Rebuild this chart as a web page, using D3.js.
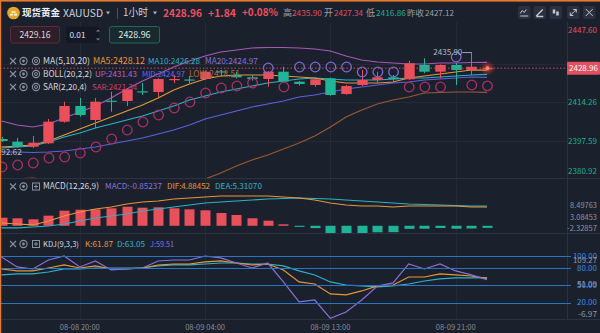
<!DOCTYPE html>
<html><head><meta charset="utf-8">
<script src="https://cdn.jsdelivr.net/npm/d3@7"></script>
<style>
html,body{margin:0;padding:0;background:#1b202d;overflow:hidden;}
svg{display:block;}
text{font-family:"Noto Sans CJK SC","Noto Sans",sans-serif;}
</style></head><body>
<svg id="c" width="600" height="333"></svg>
<script>
// ---------------- DATA ----------------
const timeLabels = ["08-08 20:00","08-09 04:00","08-09 13:00","08-09 21:00"];
const timeLabelIdx = [5,13,21,29];
const open  = [2398.45,2397.29,2395.14,2396.60,2405.91,2412.67,2406.64,2414.95,2414.82,2419.00,2418.70,2424.05,2424.10,2424.30,2427.60,2426.02,2425.03,2424.30,2427.44,2423.14,2421.72,2424.60,2417.84,2421.72,2423.87,2425.03,2424.17,2430.33,2427.44,2430.33,2428.18,2428.90];
const high  = [2399.32,2398.89,2399.75,2407.07,2414.52,2416.12,2416.12,2418.83,2420.30,2422.58,2424.60,2426.02,2425.59,2427.90,2428.18,2427.44,2426.02,2427.70,2429.60,2423.50,2424.50,2424.90,2421.70,2428.18,2427.44,2426.02,2432.18,2433.22,2430.60,2431.20,2435.90,2429.20];
const low   = [2397.16,2394.58,2394.58,2396.30,2405.50,2408.06,2403.19,2410.21,2412.67,2417.41,2416.55,2422.58,2422.58,2424.00,2425.16,2424.60,2423.57,2420.98,2422.70,2421.50,2420.98,2417.10,2417.50,2421.30,2422.58,2423.14,2423.90,2426.76,2424.60,2421.72,2426.02,2428.70];
const close = [2397.59,2395.14,2396.86,2405.91,2412.67,2408.79,2414.52,2414.70,2419.86,2418.70,2424.30,2424.30,2423.85,2427.44,2427.30,2425.03,2424.30,2427.44,2423.14,2422.15,2424.17,2417.41,2421.28,2423.87,2425.03,2424.17,2431.06,2427.44,2430.33,2428.18,2429.60,2428.96];
const ma5   = [2395.01,2395.44,2395.87,2397.59,2400.18,2402.76,2405.35,2407.93,2410.51,2413.10,2416.12,2419.56,2422.14,2424.30,2425.59,2426.02,2426.02,2426.02,2425.59,2425.16,2424.73,2423.44,2422.57,2422.57,2422.57,2423.01,2424.73,2425.59,2426.45,2427.31,2428.18,2428.12];
const ma10  = [2394.58,2395.01,2395.44,2397.16,2399.32,2401.04,2403.19,2404.92,2406.64,2408.36,2410.51,2412.67,2415.25,2416.98,2418.70,2419.99,2421.28,2422.57,2423.44,2424.30,2424.73,2424.30,2423.87,2423.87,2423.87,2424.30,2424.73,2424.73,2425.16,2425.59,2426.02,2426.28];
const bollMid = [2392.85,2392.85,2392.64,2392.85,2393.29,2394.15,2395.01,2396.30,2397.59,2398.89,2400.61,2402.33,2404.48,2407.07,2408.79,2410.51,2412.24,2413.53,2414.82,2416.55,2417.41,2418.70,2419.99,2420.85,2421.71,2422.57,2423.01,2423.87,2424.30,2424.73,2425.16,2424.97];
const bollUp  = [2406.21,2404.48,2403.62,2404.92,2407.50,2410.08,2412.67,2416.12,2419.99,2423.44,2426.45,2429.47,2432.05,2434.20,2435.93,2436.79,2437.65,2437.87,2437.87,2437.65,2437.22,2436.36,2434.20,2432.48,2431.62,2431.19,2430.76,2430.76,2431.19,2431.19,2431.40,2431.43];
const bollLow = [2379.49,2381.22,2381.66,2380.78,2379.08,2378.22,2377.35,2376.48,2375.19,2374.34,2374.77,2375.19,2378.63,2381.22,2383.81,2386.82,2389.41,2391.56,2394.15,2396.73,2399.75,2403.62,2407.93,2410.95,2413.53,2415.25,2416.55,2418.27,2418.48,2418.70,2418.70,2418.51];
const sar   = [2386.39,2387.25,2388.12,2390.27,2390.70,2392.42,2395.01,2398.46,2402.33,2405.78,2408.79,2411.81,2414.39,2418.27,2420.42,2421.28,2422.57,2429.04,2420.85,2429.47,2429.47,2429.47,2429.47,2427.31,2427.31,2427.31,2420.85,2420.85,2420.85,2433.77,2421.71,2421.34];
const macdHist = [3.29,3.05,2.64,4.11,6.14,6.54,6.71,7.11,7.76,7.36,7.52,7.11,6.71,6.30,5.20,4.39,3.05,2.07,0.61,-0.45,-0.95,-3.2,-3.5,-3.3,-2.65,-2.6,-1.25,-1.2,-0.9,-1.2,-1.1,-0.85];
const dif = [1.14,0.73,0.33,1.95,3.98,5.61,6.83,7.64,8.86,9.67,10.08,10.89,11.30,11.71,12.11,12.11,12.11,12.11,11.71,11.30,10.49,9.27,8.46,8.05,8.05,7.64,8.05,8.05,8.05,8.05,7.64,7.64];
const dea = [-0.89,-0.89,-0.49,-0.08,0.73,1.95,3.17,3.98,4.80,6.02,6.83,7.64,8.46,9.27,9.67,10.08,10.49,10.89,11.10,11.30,11.10,10.89,10.49,10.08,9.67,9.27,8.86,8.66,8.46,8.25,8.05,8.05];
const kdjK = [78.1,74.7,74.7,79.8,85.0,79.8,83.3,78.1,78.1,79.8,85.0,86.7,86.7,90.2,91.9,88.4,85.0,86.7,76.4,55.7,52.2,35.0,33.3,40.2,48.8,50.5,64.3,64.3,69.5,67.8,66.0,61.87];
const kdjD = [67.8,69.5,69.5,72.9,78.1,78.1,79.8,79.8,79.8,79.8,83.3,85.0,85.0,86.7,88.4,88.4,86.7,86.7,83.3,74.7,67.8,55.7,50.5,48.8,47.1,48.8,52.2,57.4,60.9,62.6,62.6,63.05];
const kdjJ = [98.8,81.6,78.1,93.6,100.5,81.6,91.9,76.4,78.1,79.8,91.9,93.6,93.6,100.5,97.1,88.4,79.8,88.4,55.7,21.2,24.6,-6.97,4.0,24.6,48.8,54.0,86.7,78.1,86.7,74.7,67.8,59.51];
const priceTicks = [2447.60,2430.93,2414.26,2397.59,2380.92];
const lastPrice = 2428.96;
const highMark = {idx:30, value:2435.90};
const lowMark = {idx:-1, value:2392.62};
const macdTicks = [8.49763,3.08453,-2.32857];
const kdjLevels = [100,80,50,20];
const kdjAxisExtra = [109.27,51.09,-6.97];
const header = {name:"现货黄金", code:"XAUUSD", period:"1小时", price:"2428.96", chg:"+1.84", pct:"+0.08%",
  high:"2435.90", open:"2427.34", low:"2416.86", prev:"2427.12"};
const orderBoxes = ["2429.16","0.01","2428.96"];
const maLegend = [["MA5:2428.12","#e8963a"],["MA10:2426.28","#30b4c6"],["MA20:2424.97","#8a70d8"]];
const bollLegend = [["UP:2431.43","#c060c8"],["MID:2424.97","#6c6ae6"],["LOW:2418.51","#a86a3a"]];
const sarLegend = [["SAR:2421.34","#d0406e"]];
const macdLegend = [["MACD:-0.85237","#8a70d8"],["DIF:4.88452","#e8963a"],["DEA:5.31070","#30b4c6"]];
const kdjLegend = [["K:61.87","#e8963a"],["D:63.05","#30b4c6"],["J:59.51","#8a70d8"]];

// ---------------- SETUP ----------------
const svg = d3.select("#c");
const RED = "#ec4f5c", GREEN = "#20b597", GRID = "#242a38", SEP = "#2c3242", AX = "#9096a2";
const AXR = 567;
const x = d3.scaleLinear().domain([0,31]).range([1.5,487]);
const yP = d3.scaleLinear().domain([2380.92,2447.60]).range([179.7,24.9]);
const yM = d3.scaleLinear().domain([-2.32857,8.49763]).range([231.5,204.9]);
const yK = d3.scaleLinear().domain([-6.97,109.27]).range([318.3,250.9]);

svg.append("rect").attr("width",600).attr("height",333).attr("fill","#1b202d");

const defs = svg.append("defs");
const clip = (id,y0,y1)=>defs.append("clipPath").attr("id",id).append("rect").attr("x",0).attr("y",y0).attr("width",AXR).attr("height",y1-y0);
clip("cMain",22,178); clip("cMacd",179,233); clip("cKdj",234.5,319);
const f = defs.append("filter").attr("id","glow").attr("x","-2").attr("y","-2").attr("width","5").attr("height","5");
f.append("feGaussianBlur").attr("stdDeviation",2.2);

function txt(g,xx,yy,s,o={}){
  const size = o.size||10;
  const t = g.append("text").attr("x",xx).attr("y",yy).attr("dy","0.35em")
    .attr("font-size",size).attr("fill",o.fill||AX)
    .attr("text-anchor",o.anchor||"start").attr("font-weight",o.weight||"normal").text(s);
  if(o.w){
    const w = t.node().getComputedTextLength();
    if(w>o.w) t.attr("font-size",(size*o.w/w).toFixed(2));
  }
  return t;
}

const grid = svg.append("g");
timeLabelIdx.forEach(i=>grid.append("line").attr("x1",Math.round(x(i))+0.5).attr("x2",Math.round(x(i))+0.5)
  .attr("y1",22).attr("y2",319).attr("stroke",GRID));
priceTicks.slice(1,4).forEach(v=>grid.append("line").attr("x1",0).attr("x2",AXR).attr("y1",Math.round(yP(v))+0.5)
  .attr("y2",Math.round(yP(v))+0.5).attr("stroke",GRID));
[178.5,233.5,319.5].forEach(yy=>grid.append("line").attr("x1",0).attr("x2",600).attr("y1",yy).attr("y2",yy).attr("stroke",SEP));
grid.append("line").attr("x1",AXR+0.5).attr("x2",AXR+0.5).attr("y1",22).attr("y2",319).attr("stroke",SEP);

// ---------------- MAIN PANE ----------------
const main = svg.append("g").attr("clip-path","url(#cMain)");
const lineP = d3.line().x((d,i)=>x(i)).y(d=>yP(d));
[[bollUp,"#a858b4"],[bollLow,"#9a5a30"],[bollMid,"#5c60e0"],[ma10,"#2ab3c6"],[ma5,"#e8953a"]].forEach(([arr,c])=>{
  main.append("path").datum(arr).attr("d",lineP).attr("fill","none").attr("stroke",c).attr("stroke-width",1.2);
});
const cw = 10.4;
close.forEach((c,i)=>{
  const up = c>=open[i]; const col = up?RED:GREEN;
  const cx = Math.round(x(i));
  main.append("line").attr("x1",cx+0.5).attr("x2",cx+0.5).attr("y1",yP(high[i])).attr("y2",yP(low[i])).attr("stroke",col);
  const yt = yP(Math.max(open[i],c)), yb = yP(Math.min(open[i],c));
  main.append("rect").attr("x",cx+0.5-cw/2).attr("y",yt).attr("width",cw).attr("height",Math.max(1.2,yb-yt)).attr("fill",col);
});
sar.forEach((s,i)=>{
  main.append("circle").attr("cx",x(i)+0.5).attr("cy",yP(s)).attr("r",4.8).attr("fill","none")
    .attr("stroke", s>close[i]?"#7c6ad2":"#b02f66").attr("stroke-width",1.3);
});
main.append("line").attr("x1",0).attr("x2",AXR).attr("y1",yP(lastPrice)).attr("y2",yP(lastPrice))
  .attr("stroke","#d24a5a").attr("stroke-dasharray","1.5,2");
main.append("circle").attr("cx",x(31)+0.5).attr("cy",yP(lastPrice)).attr("r",4.5).attr("fill","#ff4a3a").attr("opacity",0.7).attr("filter","url(#glow)");
main.append("circle").attr("cx",x(31)+0.5).attr("cy",yP(lastPrice)).attr("r",2).attr("fill","#ff8a78");
main.append("line").attr("x1",x(highMark.idx)-9).attr("x2",x(highMark.idx)).attr("y1",yP(highMark.value)+0.5).attr("y2",yP(highMark.value)+0.5).attr("stroke","#9aa0aa");
txt(main,x(highMark.idx)-9,yP(highMark.value)+0.5,highMark.value.toFixed(2),{size:9.5,fill:"#b4b8c2",anchor:"end",w:29});
main.append("line").attr("x1",x(lowMark.idx)).attr("x2",x(lowMark.idx)+6).attr("y1",yP(lowMark.value)).attr("y2",yP(lowMark.value)).attr("stroke","#9aa0aa");
txt(main,x(lowMark.idx)+6,yP(lowMark.value),lowMark.value.toFixed(2),{size:9.5,fill:"#b4b8c2",w:30});

function icons(g,yy,third){
  const c="#8a909c";
  g.append("path").attr("d",`M10,${yy-3}L16,${yy+3}M16,${yy-3}L10,${yy+3}`).attr("stroke",c).attr("stroke-width",1.1);
  g.append("circle").attr("cx",23.5).attr("cy",yy).attr("r",3.6).attr("fill","none").attr("stroke",c).attr("stroke-width",1.1);
  g.append("circle").attr("cx",23.5).attr("cy",yy).attr("r",1.4).attr("fill",c);
  if(third==="eye"){
    g.append("circle").attr("cx",36).attr("cy",yy).attr("r",3.6).attr("fill","none").attr("stroke",c).attr("stroke-width",1.1);
    g.append("circle").attr("cx",36).attr("cy",yy).attr("r",1.5).attr("fill","none").attr("stroke",c);
  } else {
    g.append("rect").attr("x",32.5).attr("y",yy-3.5).attr("width",7).attr("height",7).attr("fill","none").attr("stroke",c);
    g.append("path").attr("d",`M34,${yy}L38,${yy}M36,${yy-2}L36,${yy+2}`).attr("stroke",c);
  }
}
const leg = svg.append("g");
function legendRow(yy,title,tw,items,xs,ws,third){
  icons(leg,yy,third);
  txt(leg,43,yy,title,{size:10,fill:"#d4d7de",w:tw});
  items.forEach((it,k)=>txt(leg,xs[k],yy,it[0],{size:10,fill:it[1],w:ws[k]}));
}
legendRow(61,"MA(5,10,20)",47,maLegend,[93,148,205],[52,52,53],"eye");
legendRow(74,"BOLL(20,2,2)",49,bollLegend,[95,142,189],[42,43,51],"eye");
legendRow(87,"SAR(2,20,4)",44,sarLegend,[92],[45],"eye");

const axg = svg.append("g");
priceTicks.forEach(v=>{
  if(Math.abs(yP(v)-yP(lastPrice))<9) return;
  const yy = Math.min(171.5,Math.max(30.5,yP(v)));
  txt(axg,597,yy,v.toFixed(2),{size:9.5,anchor:"end",fill: v>lastPrice?"#e0505e":"#1fae8e",w:29});
});
axg.append("rect").attr("x",567).attr("y",yP(lastPrice)-6.5).attr("width",33).attr("height",13).attr("fill","#e0505e").attr("rx",1);
txt(axg,583.5,yP(lastPrice),lastPrice.toFixed(2),{size:9.5,anchor:"middle",fill:"#ffffff",w:29});

// ---------------- MACD ----------------
const mg = svg.append("g").attr("clip-path","url(#cMacd)");
macdHist.forEach((v,i)=>{
  const y0 = yM(0), y1 = yM(v);
  mg.append("rect").attr("x",Math.round(x(i))+0.5-5).attr("y",Math.min(y0,y1)).attr("width",10)
    .attr("height",Math.max(1,Math.abs(y1-y0))).attr("fill",v>=0?"#e8505c":"#1eb596");
});
const lineM = d3.line().x((d,i)=>x(i)).y(d=>yM(d));
mg.append("path").datum(dea).attr("d",lineM).attr("fill","none").attr("stroke","#2ab3c6").attr("stroke-width",1.2);
mg.append("path").datum(dif).attr("d",lineM).attr("fill","none").attr("stroke","#e8953a").attr("stroke-width",1.2);
legendRow(186.5,"MACD(12,26,9)",56,macdLegend,[105,167,215],[57,43,47],"box");
macdTicks.forEach(v=>{
  const yy = Math.min(228.6,Math.max(185,yM(v)-(v>0&&v<5?0.8:0)));
  txt(axg,597,yy,v.toFixed(5),{size:9.5,anchor:"end",fill:AX,w:v<0?30:27});
});

// ---------------- KDJ ----------------
const kg = svg.append("g").attr("clip-path","url(#cKdj)");
const lvl = svg.append("g");
kdjLevels.forEach(v=>lvl.append("line").attr("x1",0).attr("x2",571).attr("y1",Math.round(yK(v))+0.5).attr("y2",Math.round(yK(v))+0.5)
  .attr("stroke","#2a74c4").attr("stroke-width",1.2));
const lineK = d3.line().x((d,i)=>x(i)).y(d=>yK(d));
[[kdjD,"#2ab3c6"],[kdjK,"#e8953a"],[kdjJ,"#8a70d8"]].forEach(([arr,c])=>
  kg.append("path").datum(arr).attr("d",lineK).attr("fill","none").attr("stroke",c).attr("stroke-width",1.2));
legendRow(244,"KDJ(9,3,3)",36,kdjLegend,[85,117,150],[28,28,24],"box");
kdjLevels.forEach(v=>txt(axg,597,yK(v),v.toFixed(2),{size:9.5,anchor:"end",fill:"#3a8de0",w:v>=100?24:20}));
kdjAxisExtra.forEach(v=>{
  const yy = Math.min(314,Math.max(260,yK(v)));
  txt(axg,597,yy,v.toFixed(2),{size:9.5,anchor:"end",fill:AX,w:v>=100?24:(v<0?19:20)});
});

timeLabelIdx.forEach((i,k)=>txt(axg,x(i),327.5,timeLabels[k],{size:9,anchor:"middle",fill:"#868c98",w:40}));

// ---------------- HEADER ----------------
const hd = svg.append("g");
hd.append("rect").attr("x",0).attr("y",0).attr("width",600).attr("height",1.6).attr("fill","#e47a2c");
hd.append("rect").attr("x",0).attr("y",0).attr("width",1.2).attr("height",333).attr("fill","#e47a2c");
hd.append("circle").attr("cx",13.5).attr("cy",13).attr("r",6.3).attr("fill","#e6a62a");
hd.append("path").attr("d","M11.5,11.2h4v1.6h-4zM9.8,13.8h3.2v1.6h-3.2zM14,13.8h3.2v1.6h-3.2z").attr("fill","#fff6dc");
txt(hd,22,13,header.name,{size:12,fill:"#eceef2",weight:"bold",w:38});
txt(hd,63,13,header.code,{size:12,fill:"#cfd2d9",w:40});
hd.append("path").attr("d","M106,11.5l4,0l-2,3z").attr("fill","#aeb3bd");
hd.append("line").attr("x1",117.5).attr("x2",117.5).attr("y1",8).attr("y2",19).attr("stroke","#4a505c");
txt(hd,123,13,header.period,{size:12,fill:"#cfd2d9",w:25});
hd.append("path").attr("d","M153,11.5l4,0l-2,3z").attr("fill","#aeb3bd");
txt(hd,163,13,header.price,{size:12,fill:"#f0505e",weight:"bold",w:39});
txt(hd,208,13,header.chg,{size:11.5,fill:"#f0505e",weight:"bold",w:28});
txt(hd,242,13,header.pct,{size:11.5,fill:"#f0505e",weight:"bold",w:36});
const hi = [["高",283,"#9ba0aa",9],[header.high,292,"#e0505e",30],["开",324,"#9ba0aa",9],[header.open,334,"#e0505e",29],
  ["低",366,"#9ba0aa",9],[header.low,376,"#1fae8e",30],["昨收",407,"#9ba0aa",17],[header.prev,425,"#9ba0aa",29]];
hi.forEach(([s,xx,c,w])=>txt(hd,xx,13,s,{size:9.8,fill:c,w:w}));
[518,533.5,549.5,567,583].forEach((xx,k)=>{
  hd.append("rect").attr("x",xx).attr("y",6).attr("width",12.5).attr("height",13).attr("rx",2).attr("fill","#2a3040");
  const c="#c4c8d0", cx=xx+6.25, cy=12.5;
  if(k===0) hd.append("path").attr("d",`M${cx-4},${cy+1}L${cx-2},${cy-2}L${cx},${cy}L${cx+2},${cy-3}M${cx-4},${cy+3.5}L${cx+4},${cy+3.5}`).attr("stroke",c).attr("fill","none");
  if(k===1) hd.append("path").attr("d",`M${cx-3.5},${cy+3.5}L${cx+3},${cy-3}M${cx-3.5},${cy+4}L${cx+3.5},${cy+4}`).attr("stroke",c).attr("stroke-width",1.4).attr("fill","none");
  if(k===2) hd.append("path").attr("d",`M${cx-3},${cy-3}h2.5v4h-2.5zM${cx+0.5},${cy-1}h2.5v4h-2.5z`).attr("fill",c);
  if(k===3) hd.append("path").attr("d",`M${cx-3},${cy+3}L${cx+3},${cy-3}M${cx},${cy-3}h3v3M${cx-3},${cy}v3h3`).attr("stroke",c).attr("fill","none");
  if(k===4) hd.append("path").attr("d",`M${cx-3.5},${cy-3.5}L${cx+3.5},${cy+3.5}M${cx+3.5},${cy-3.5}L${cx-3.5},${cy+3.5}`).attr("stroke",c).attr("fill","none");
});
hd.append("rect").attr("x",10.5).attr("y",26.5).attr("width",49).attr("height",16.5).attr("rx",2).attr("fill","#2c1f2a").attr("stroke","#63283a");
txt(hd,35,35,orderBoxes[0],{size:10,anchor:"middle",fill:"#e2d6da",w:31});
hd.append("rect").attr("x",66).attr("y",26.5).attr("width",33).attr("height",16.5).attr("rx",2).attr("fill","#141824");
txt(hd,77.5,35,orderBoxes[1],{size:10,anchor:"middle",fill:"#e2e4ea",w:16});
hd.append("path").attr("d","M96,31.5l2,-2l2,2zM96,38.5l2,2l2,-2z").attr("fill","#7d828e");
hd.append("rect").attr("x",109.5).attr("y",26.5).attr("width",50).attr("height",16.5).attr("rx",2).attr("fill","#192a2e").attr("stroke","#1d6a5c");
txt(hd,134.5,35,orderBoxes[2],{size:10,anchor:"middle",fill:"#dfe6e6",w:32});
</script>
</body></html>
